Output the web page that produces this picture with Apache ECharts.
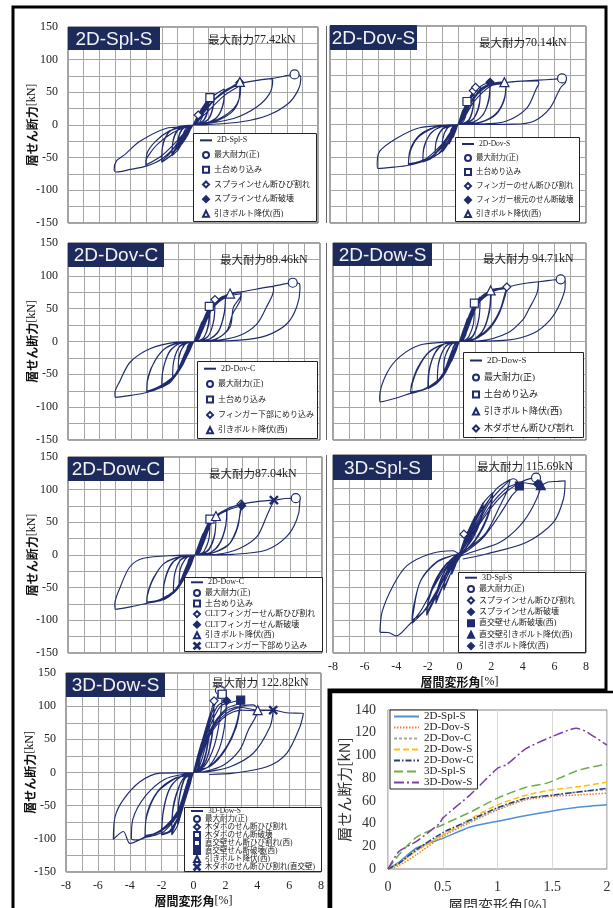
<!DOCTYPE html>
<html>
<head>
<meta charset="utf-8">
<script src="https://cdn.jsdelivr.net/npm/echarts@6/dist/echarts.min.js"></script>
<style>
html, body { margin: 0; padding: 0; background: #fff; }
#main { width: 613px; height: 908px; }
</style>
</head>
<body>
<div id="main"></div>
<script>
// 試験体ごとの履歴ループ + 包絡線比較
var panelNames = ['2D-Spl-S', '2D-Dov-S', '2D-Dov-C', '2D-Dow-S', '2D-Dow-C', '3D-Spl-S', '3D-Dow-S'];
var maxLoads = ['77.42', '70.14', '89.46', '94.71', '87.04', '115.69', '122.82'];

// 履歴ループ [x(%), y(kN), x, y, ...] 1サイクルずつ
var loops1 = [
    [0,0, 0.25,12, 0.5,22, 0.47,13, 0.3,4, 0,0, -0.25,-11, -0.5,-21, -0.47,-12, -0.3,-3, 0,0],
    [0,0, 0.35,17, 0.7,30, 0.66,17, 0.45,5, 0.2,1, 0,0, -0.35,-16, -0.7,-29, -0.66,-16, -0.45,-5, -0.2,-1, 0,0],
    [0,0, 0.5,22, 1.0,42, 0.95,24, 0.7,8, 0.35,2, 0,0, -0.5,-20, -1.0,-40, -0.95,-22, -0.7,-7, -0.35,-2, 0,0],
    [0,0, 0.5,20, 1.0,38, 0.95,21, 0.7,7, 0.35,2, 0,0, -0.5,-18, -1.0,-36, -0.94,-19, -0.7,-6, -0.35,-1, 0,0],
    [0,0, 0.5,20, 1.0,40, 1.35,48, 1.28,28, 1.0,10, 0.5,2, 0,0, -0.5,-19, -1.0,-39, -1.35,-47, -1.28,-26, -1.0,-9, -0.5,-2, 0,0],
    [0,0, 0.6,20, 1.35,45, 1.27,25, 1.0,9, 0.5,1, 0,0, -0.6,-19, -1.35,-44, -1.27,-23, -1.0,-8, -0.5,-1, 0,0],
    [0,0, 0.6,22, 1.3,44, 2.0,55, 1.95,35, 1.6,14, 1.0,4, 0.4,1, 0,0, -0.6,-20, -1.3,-44, -2.0,-57, -1.95,-34, -1.6,-13, -1.0,-3, -0.4,-1, 0,0],
    [0,0, 0.8,22, 1.5,42, 2.0,52, 1.94,32, 1.55,12, 0.9,3, 0,0, -0.8,-21, -1.5,-44, -2.0,-55, -1.94,-31, -1.55,-11, -0.9,-3, 0,0],
    [0,0, 0.7,22, 1.5,42, 2.2,54, 3.0,65, 3.05,58, 2.95,40, 2.6,25, 1.8,11, 0.9,3, 0,0, -0.7,-20, -1.5,-42, -2.2,-55, -3.0,-63, -3.02,-55, -2.8,-45, -2.3,-30, -1.3,-12, -0.4,-2.5, 0,0],
    [0,0, 1.0,22, 2.0,45, 3.0,60, 2.93,38, 2.5,20, 1.6,7, 0.7,1, 0,0, -1.0,-24, -2.0,-47, -3.0,-61, -2.95,-44, -2.4,-25, -1.5,-9, -0.5,-2, 0,0],
    [0,0, 1.0,30, 2.0,50, 3.0,63, 4.0,68, 5.0,71, 5.1,68, 4.9,48, 4.1,28, 2.6,10, 0.5,1, 0,0, -1.0,-30, -2.0,-52, -3.0,-63, -4.0,-68, -4.9,-72, -5.05,-69, -4.9,-55, -4.35,-45, -3.4,-25, -1.7,-5, 0,0],
    [0,0, 1.0,30, 2.0,52, 3.0,63, 4.0,68, 5.0,71, 5.5,73, 6.0,75.5, 6.5,77.4, 6.85,76, 6.9,70, 6.72,53, 6.1,33, 4.8,15, 3.1,5, 0.9,0.5, 0,0]
];
var loops2 = [
    [0,0, 0.15,11, 0.3,22, 0.28,12, 0.15,3, 0,0, -0.15,-10, -0.3,-20, -0.28,-10, -0.15,-2, 0,0],
    [0,0, 0.3,20, 0.56,35, 0.53,18, 0.35,5, 0.15,1, 0,0, -0.3,-17, -0.56,-30, -0.52,-15, -0.35,-4, -0.15,-1, 0,0],
    [0,0, 0.4,25, 0.8,44, 1.0,52, 0.95,28, 0.7,8, 0.35,2, 0,0, -0.4,-20, -0.8,-36, -1.0,-42, -0.95,-22, -0.7,-6, -0.35,-1, 0,0],
    [0,0, 0.5,27, 1.0,49, 0.94,25, 0.7,7, 0.3,1, 0,0, -0.5,-21, -1.0,-40, -0.94,-20, -0.65,-5, -0.3,-1, 0,0],
    [0,0, 0.5,26, 1.0,50, 1.4,58, 1.33,32, 1.0,10, 0.5,2, 0,0, -0.5,-20, -1.0,-40, -1.44,-48, -1.36,-26, -1.0,-8, -0.5,-2, 0,0],
    [0,0, 0.7,30, 1.4,55, 1.32,28, 0.95,8, 0.45,1, 0,0, -0.7,-24, -1.44,-46, -1.34,-23, -0.95,-6, -0.45,-1, 0,0],
    [0,0, 0.6,30, 1.2,54, 1.6,61, 2.0,64, 1.93,40, 1.6,16, 1.0,4, 0.4,1, 0,0, -0.6,-24, -1.2,-44, -1.7,-52, -2.2,-57, -2.12,-35, -1.7,-13, -1.0,-3, -0.4,-1, 0,0],
    [0,0, 0.8,32, 1.5,56, 2.0,61, 1.92,36, 1.5,13, 0.8,2, 0,0, -0.8,-27, -1.6,-49, -2.2,-55, -2.1,-32, -1.6,-11, -0.8,-2, 0,0],
    [0,0, 0.8,32, 1.6,57, 2.2,63, 3.0,65, 2.92,42, 2.5,20, 1.7,6, 0.8,1, 0,0, -0.8,-26, -1.6,-48, -2.3,-57, -3.1,-62, -3.0,-42, -2.5,-20, -1.6,-6, -0.7,-1, 0,0],
    [0,0, 1.0,35, 2.0,58, 3.0,62, 2.9,38, 2.4,16, 1.5,4, 0.6,1, 0,0, -1.0,-30, -2.0,-52, -3.1,-60, -2.98,-38, -2.4,-16, -1.4,-4, 0,0],
    [0,0, 1.0,40, 2.0,60, 3.0,64, 4.0,66, 5.0,66.5, 5.05,62, 4.9,55, 4.3,25, 3.0,5, 1.4,0.5, 0,0, -1.0,-35, -2.0,-54, -3.1,-62, -4.0,-65, -5.0,-67, -5.05,-60, -4.9,-41, -3.83,-21, -2.4,-5, -0.7,-1, 0,0],
    [0,0, 1.0,42, 2.0,61, 3.0,64, 4.0,66, 5.0,67.5, 6.0,69, 6.5,70.1, 6.75,69, 6.72,64, 6.4,55.6, 5.75,25, 4.7,4.6, 3.5,0.5, 0,0]
];
var loops3 = [
    [0,0, 0.25,15, 0.5,30, 0.47,16, 0.3,4, 0,0, -0.25,-13, -0.5,-25, -0.47,-13, -0.3,-3, 0,0],
    [0,0, 0.5,28, 0.97,53.6, 0.92,28, 0.65,7, 0.3,1, 0,0, -0.5,-24, -1.0,-45, -0.95,-24, -0.65,-6, -0.3,-1, 0,0],
    [0,0, 0.5,26, 1.0,50, 0.93,25, 0.62,6, 0.3,1, 0,0, -0.5,-23, -1.0,-43, -0.94,-21, -0.6,-5, -0.3,-1, 0,0],
    [0,0, 0.6,33, 1.0,53, 1.33,63.8, 1.27,35, 0.95,10, 0.45,2, 0,0, -0.6,-30, -1.0,-46, -1.36,-58, -1.3,-32, -0.95,-9, -0.45,-2, 0,0],
    [0,0, 0.7,35, 1.33,61, 1.26,32, 0.9,8, 0.4,1, 0,0, -0.7,-32, -1.36,-56, -1.28,-29, -0.9,-7, -0.4,-1, 0,0],
    [0,0, 0.7,38, 1.3,60, 1.7,67, 2.0,70, 1.93,45, 1.6,18, 1.0,4, 0.4,1, 0,0, -0.7,-35, -1.4,-59, -2.05,-70, -1.98,-45, -1.6,-18, -1.0,-4, -0.4,-1, 0,0],
    [0,0, 0.9,42, 1.5,62, 2.0,68, 1.92,42, 1.55,15, 0.9,3, 0,0, -0.9,-40, -1.5,-60, -2.05,-68, -1.96,-42, -1.55,-15, -0.9,-3, 0,0],
    [0,0, 0.9,45, 1.5,63, 2.3,73, 3.0,75.5, 2.95,68, 2.5,52, 2.29,22, 1.44,4, 0.6,0.5, 0,0, -0.9,-42, -1.5,-62, -2.2,-71, -3.0,-77.6, -2.95,-60, -2.6,-35, -1.9,-12, -0.9,-2, 0,0],
    [0,0, 1.1,48, 2.0,67, 3.0,73, 2.93,62, 2.45,42, 2.1,17, 1.3,3, 0,0, -1.1,-48, -2.1,-67, -3.0,-76, -2.93,-55, -2.5,-30, -1.8,-10, -0.8,-1, 0,0],
    [0,0, 1.2,52, 2.0,69, 3.0,75.5, 4.0,80, 5.0,84, 5.05,78, 4.6,52.5, 4.0,27, 2.9,9, 1.6,2, 0,0, -1.2,-50, -2.1,-69, -3.0,-77.6, -4.0,-82, -5.0,-85, -5.02,-78, -4.7,-60, -4.06,-31.6, -2.8,-11, -1.1,-1, 0,0],
    [0,0, 1.2,52, 2.0,69, 3.0,75.5, 4.0,80, 5.0,84, 5.6,87, 6.27,89.5, 6.7,88, 6.73,80.7, 6.52,52.5, 5.9,27, 4.6,9, 2.9,2, 0,0]
];
var loops4 = [
    [0,0, 0.25,18, 0.5,35, 0.47,18, 0.3,5, 0,0, -0.25,-16, -0.5,-30, -0.47,-15, -0.3,-4, 0,0],
    [0,0, 0.5,33, 0.94,58.5, 0.9,30, 0.6,8, 0.3,1, 0,0, -0.5,-29, -1.0,-52, -0.95,-27, -0.6,-7, -0.3,-1, 0,0],
    [0,0, 0.5,31, 0.94,55, 0.88,27, 0.58,7, 0.28,1, 0,0, -0.5,-27, -1.0,-49, -0.93,-24, -0.58,-6, -0.28,-1, 0,0],
    [0,0, 0.6,38, 1.0,58, 1.3,68, 1.24,38, 0.9,11, 0.45,2, 0,0, -0.6,-34, -1.0,-52, -1.4,-63, -1.33,-35, -0.95,-10, -0.45,-2, 0,0],
    [0,0, 0.7,40, 1.3,65, 1.23,35, 0.88,9, 0.4,1, 0,0, -0.7,-36, -1.4,-61, -1.32,-32, -0.9,-8, -0.4,-1, 0,0],
    [0,0, 0.8,48, 1.4,69, 1.97,77.8, 1.9,50, 1.55,20, 1.0,5, 0.4,1, 0,0, -0.8,-42, -1.4,-63, -1.97,-71.5, -1.92,-46, -1.55,-18, -1.0,-4, -0.4,-1, 0,0],
    [0,0, 1.0,52, 1.6,70, 2.0,75, 1.9,46, 1.5,17, 0.9,3, 0,0, -1.0,-48, -1.6,-65, -2.0,-70, -1.92,-43, -1.5,-15, -0.9,-3, 0,0],
    [0,0, 1.0,55, 1.97,77.8, 2.5,81, 3.0,83, 2.88,73.6, 2.56,48, 1.93,22.6, 1.1,6, 0.4,1, 0,0, -1.0,-50, -2.0,-70, -2.6,-76, -3.09,-79, -3.05,-70, -2.7,-45, -2.0,-18, -1.0,-4, 0,0],
    [0,0, 1.2,58, 2.2,77, 3.0,81, 2.87,68, 2.5,42, 1.85,18, 1.0,4, 0,0, -1.2,-55, -2.2,-72, -3.09,-77, -3.03,-65, -2.65,-40, -1.9,-15, -0.9,-3, 0,0],
    [0,0, 1.2,60, 2.0,77, 3.0,83, 4.0,88, 5.0,91, 4.9,73.6, 4.4,50, 4.0,33, 3.0,12.5, 1.3,1, 0,0, -1.2,-56, -2.1,-72, -3.1,-79, -4.0,-86, -5.03,-92, -5.05,-85, -4.6,-48.5, -3.77,-23, -2.5,-5.3, -0.9,-1, 0,0],
    [0,0, 1.2,60, 2.0,77, 3.0,83, 4.0,88, 5.0,91, 5.7,93, 6.4,94.7, 6.68,92, 6.68,83.7, 6.36,58, 5.73,33, 4.67,12.5, 3.0,2, 0,0]
];
var loops5 = [
    [0,0, 0.25,17, 0.5,33, 0.47,17, 0.3,4, 0,0, -0.25,-15, -0.5,-28, -0.47,-14, -0.3,-3, 0,0],
    [0,0, 0.5,31, 0.94,55, 0.9,28, 0.6,7, 0.3,1, 0,0, -0.5,-27, -1.0,-48, -0.95,-24, -0.6,-6, -0.3,-1, 0,0],
    [0,0, 0.5,29, 0.94,52, 0.88,25, 0.58,6, 0.28,1, 0,0, -0.5,-25, -1.0,-46, -0.93,-22, -0.58,-5, -0.28,-1, 0,0],
    [0,0, 0.6,35, 1.0,55, 1.32,59.7, 1.25,33, 0.9,10, 0.45,2, 0,0, -0.6,-32, -1.0,-49, -1.36,-58.7, -1.3,-32, -0.95,-9, -0.45,-2, 0,0],
    [0,0, 0.7,37, 1.32,58, 1.24,30, 0.88,8, 0.4,1, 0,0, -0.7,-34, -1.36,-57, -1.28,-29, -0.9,-7, -0.4,-1, 0,0],
    [0,0, 0.8,45, 1.4,61, 2.0,70, 1.93,45, 1.55,18, 1.0,4, 0.4,1, 0,0, -0.8,-40, -1.4,-59, -2.0,-69, -1.94,-44, -1.55,-17, -1.0,-4, -0.4,-1, 0,0],
    [0,0, 1.0,50, 1.6,63, 2.0,68, 1.92,42, 1.5,15, 0.9,3, 0,0, -1.0,-46, -1.6,-62, -2.0,-67, -1.93,-41, -1.5,-14, -0.9,-3, 0,0],
    [0,0, 1.0,52, 2.0,70, 2.5,75, 2.94,78, 2.85,68, 2.7,43, 2.2,18, 1.2,4, 0.4,1, 0,0, -1.0,-47, -2.0,-68, -2.6,-72, -3.04,-74, -3.0,-62, -2.65,-38, -2.0,-14, -1.0,-3, 0,0],
    [0,0, 1.2,56, 2.2,70, 2.94,75, 2.84,62, 2.6,38, 2.1,15, 1.1,3, 0,0, -1.2,-52, -2.2,-68, -3.04,-72, -2.98,-58, -2.6,-34, -1.9,-12, -0.9,-2, 0,0],
    [0,0, 1.2,57, 2.0,70, 3.0,78, 4.0,82, 5.0,84, 4.8,75, 4.5,58.6, 3.9,28, 2.8,10, 1.4,1, 0,0, -1.2,-53, -2.1,-69, -3.04,-74, -4.0,-79, -5.03,-83, -5.05,-75, -4.7,-48.5, -4.1,-18, -3.25,-5, -1.1,-0.5, 0,0],
    [0,0, 1.2,57, 2.0,70, 3.0,78, 4.0,82, 5.0,84, 5.7,86.5, 6.35,87, 6.6,86, 6.6,79, 6.4,53.6, 5.77,28, 4.5,7.7, 2.4,1, 0,0]
];
var loops6 = [
    [0,0, 0.25,18, 0.5,34, 0.42,20, 0.2,6, 0,0, -0.25,-17, -0.5,-31, -0.42,-18, -0.2,-5, 0,0],
    [0,0, 0.5,32, 1.0,58, 0.9,38, 0.55,15, 0.15,0, -0.3,-15, -0.7,-38, -1.0,-55, -0.9,-35, -0.55,-12, -0.15,0, 0,0],
    [0,0, 0.5,30, 1.0,55, 0.88,34, 0.5,12, 0.1,-2, -0.4,-22, -1.0,-52, -0.88,-32, -0.5,-10, 0,0],
    [0,0, 0.5,30, 1.0,55, 1.5,78, 1.35,55, 0.9,28, 0.3,6, -0.3,-12, -0.9,-40, -1.5,-75, -1.35,-52, -0.9,-25, -0.3,-4, 0,0],
    [0,0, 0.6,30, 1.1,56, 1.5,74, 1.33,50, 0.85,24, 0.25,4, -0.35,-15, -0.95,-42, -1.5,-71, -1.33,-48, -0.85,-22, -0.25,-3, 0,0],
    [0,0, 0.6,32, 1.2,62, 1.6,80, 2.1,93, 1.95,72, 1.6,48, 1.0,22, 0.3,3, -0.4,-14, -1.0,-38, -1.6,-70, -2.08,-93, -1.95,-70, -1.5,-42, -0.9,-18, -0.3,-3, 0,0],
    [0,0, 0.7,33, 1.3,62, 2.1,90, 1.93,66, 1.5,40, 0.9,17, 0.2,2, -0.5,-18, -1.2,-48, -2.08,-90, -1.93,-65, -1.45,-36, -0.8,-14, 0,0],
    [0,0, 0.8,35, 1.5,66, 2.3,98, 3.2,113, 3.0,95, 2.56,73, 1.7,33, 0.65,10, -0.2,-2, -1.0,-35, -2.0,-80, -3.0,-105, -2.92,-88, -2.5,-43, -1.44,-12.6, -0.4,-2, 0,0],
    [0,0, 1.0,40, 2.0,82, 2.8,103, 3.4,114, 3.6,112, 3.79,103, 3.3,88, 2.5,58, 1.5,25, 0.5,5, -0.3,-8, -1.3,-50, -2.3,-88, -3.0,-100, -2.95,-85, -2.45,-40, -1.4,-11, -0.4,-2, 0,0],
    [0,0, 1.0,38, 2.0,75, 3.0,100, 3.8,108, 4.3,113, 4.84,115.7, 5.0,110, 5.14,104.5, 4.67,73, 3.83,43, 2.56,17.7, 0.8,3, -0.5,-10, -1.5,-45, -2.5,-88, -3.3,-110, -4.0,-124, -4.5,-119, -5.03,-118.6, -4.9,-88, -4.2,-48, -3.34,-18, -1.87,0, -0.4,5, 0,0],
    [0,0, 1.0,36, 2.0,70, 3.0,95, 4.0,108, 5.14,104.5, 5.6,109, 6.2,110, 6.68,111, 6.57,83, 5.94,48, 4.25,17.7, 1.7,0, 0.21,-7.5]
];
var loops7 = [
    [0,0, 0.25,24, 0.5,45, 0.45,25, 0.25,6, 0,0, -0.25,-21, -0.5,-40, -0.45,-21, -0.25,-5, 0,0],
    [0,0, 0.5,44, 1.0,85, 0.93,50, 0.6,15, 0.25,2, 0,0, -0.5,-40, -1.0,-80, -0.93,-46, -0.6,-12, -0.25,-2, 0,0],
    [0,0, 0.5,42, 1.0,80, 0.92,45, 0.58,12, 0,0, -0.5,-38, -1.0,-76, -0.92,-42, -0.58,-10, 0,0],
    [0,0, 0.6,50, 1.0,84, 1.29,108, 1.2,65, 0.85,22, 0.4,4, 0,0, -0.6,-46, -1.0,-80, -1.37,-94, -1.28,-55, -0.85,-18, -0.4,-3, 0,0],
    [0,0, 0.7,55, 1.29,100, 1.19,58, 0.8,18, 0.35,3, 0,0, -0.7,-52, -1.37,-92, -1.27,-50, -0.8,-15, -0.35,-2, 0,0],
    [0,0, 0.7,58, 1.3,100, 1.7,122.8, 1.8,118, 1.65,80, 1.3,40, 0.7,10, 0,0, -0.7,-55, -1.4,-88, -2.0,-94, -1.9,-60, -1.5,-25, -0.8,-6, 0,0],
    [0,0, 0.8,60, 1.5,100, 2.08,108, 1.95,70, 1.6,35, 0.9,8, 0,0, -0.8,-58, -1.5,-88, -2.0,-92, -1.88,-55, -1.45,-22, -0.7,-5, 0,0],
    [0,0, 0.9,62, 1.7,100, 2.4,106, 2.96,109, 2.7,74, 2.08,39, 1.24,14, 0.4,2, 0,0, -0.9,-60, -1.8,-88, -2.5,-95, -3.04,-97.8, -2.94,-66.6, -2.3,-31, -1.27,-11, -0.43,-3, 0,0],
    [0,0, 1.0,62, 2.0,95, 2.96,104, 2.68,68, 2.0,34, 1.1,10, 0,0, -1.0,-62, -2.0,-88, -3.04,-95, -2.9,-60, -2.2,-27, -1.2,-9, 0,0],
    [0,0, 1.0,60, 2.0,92, 3.0,100, 3.75,102, 4.03,94, 3.44,64, 2.9,34, 1.87,11, 0.6,1, 0,0, -1.0,-60, -2.0,-88, -3.04,-97, -3.5,-102, -3.9,-100, -3.8,-70, -3.0,-35, -1.8,-10, -0.5,-2, 0,0],
    [0,0, 1.0,58, 2.0,88, 3.0,98, 4.0,94, 5.0,94, 4.8,69, 3.75,29, 2.3,8.7, 0.84,1, 0,0, -1.0,-58, -2.0,-86, -3.04,-97.8, -3.98,-107, -4.4,-89, -5.03,-100.8, -4.92,-66.6, -4.4,-41, -3.36,-14, -2.1,-1, 0,0],
    [0,0, 1.0,55, 2.0,85, 3.0,94, 4.0,93, 5.0,94, 5.8,90, 6.89,89, 6.68,69, 5.85,29, 4.6,8.7, 2.5,-1, 1.0,-3]
];

// 破壊性状のマーカー [凡例名, 記号, 点]
var marks1 = [
    ['最大耐力(正)', 'o', [[6.5, 77.4]]],
    ['土台めり込み', 's', [[1.08, 42]]],
    ['スプラインせん断ひび割れ', 'd', [[0.33, 15.3]]],
    ['スプラインせん断破壊', 'D', [[3.0, 65]]],
    ['引きボルト降伏(西)', 't', [[3.0, 66]]]
];
var marks2 = [
    ['最大耐力(正)', 'o', [[6.5, 70.1]]],
    ['土台めり込み', 's', [[0.56, 35]]],
    ['フィンガーのせん断ひび割れ', 'd', [[0.96, 51.6], [1.1, 56.6]]],
    ['フィンガー根元のせん断破壊', 'D', [[2.0, 64.3]]],
    ['引きボルト降伏(西)', 't', [[2.9, 64.5]]]
];
var marks3 = [
    ['最大耐力(正)', 'o', [[6.27, 89.5]]],
    ['土台めり込み', 's', [[0.97, 53.6]]],
    ['フィンガー下部にめり込み', 'd', [[1.33, 63.8]]],
    ['引きボルト降伏(西)', 't', [[2.29, 73]]]
];
var marks4 = [
    ['最大耐力(正)', 'o', [[6.4, 94.7]]],
    ['土台めり込み', 's', [[0.94, 58.5]]],
    ['引きボルト降伏(西)', 't', [[1.97, 77.8]]],
    ['木ダボせん断ひび割れ', 'd', [[2.99, 83]]]
];
var marks5 = [
    ['最大耐力(正)', 'o', [[6.35, 87]]],
    ['土台めり込み', 's', [[0.94, 55]]],
    ['CLTフィンガーせん断ひび割れ', 'd', [[2.9, 78]]],
    ['CLTフィンガーせん断破壊', 'D', [[2.94, 75.5]]],
    ['引きボルト降伏(西)', 't', [[1.32, 59.7]]],
    ['CLTフィンガー下部めり込み', 'x', [[4.97, 84]]]
];
var marks6 = [
    ['最大耐力(正)', 'o', [[4.84, 115.7]]],
    ['スプラインせん断ひび割れ', 'd', [[0.28, 30]]],
    ['スプラインせん断破壊', 'D', [[4.95, 106]]],
    ['直交壁せん断破壊(西)', 'S', [[3.79, 103]]],
    ['直交壁引きボルト降伏(西)', 'T', [[5.14, 104.5]]],
    ['引きボルト降伏(西)', 'D', [[4.95, 106]]]
];
var marks7 = [
    ['最大耐力(正)', 'o', [[1.66, 124]]],
    ['木ダボのせん断ひび割れ', 'd', [[1.29, 108]]],
    ['木ダボのせん断破壊', 's', [[1.8, 118]]],
    ['直交壁せん断ひび割れ(西)', 's', [[1.8, 118]]],
    ['直交壁せん断破壊(西)', 'S', [[2.96, 109]]],
    ['引きボルト降伏(西)', 't', [[4.03, 94]]],
    ['木ダボのせん断ひび割れ(直交壁)', 'x', [[5.0, 94]]],
    ['', 'D', [[2.08, 108]]]
];

// 包絡線 (0-2%)
var envNames = ['2D-Spl-S', '2D-Dov-S', '2D-Dov-C', '2D-Dow-S', '2D-Dow-C', '3D-Spl-S', '3D-Dow-S'];
var env2DSplS = [[0,0],[0.1,6],[0.26,18.5],[0.5,27],[0.75,37],[1.0,42],[1.2,46],[1.48,50.7],[1.75,54.5],[2.0,56.5]];
var env2DDovS = [[0,0],[0.1,3],[0.26,12.6],[0.5,28.7],[0.75,41],[1.0,52],[1.26,61],[1.5,64],[1.75,65.3],[2.0,66.8]];
var env2DDovC = [[0,0],[0.1,5],[0.26,16],[0.5,30],[0.75,42],[1.0,53],[1.3,63],[1.5,65],[1.75,68],[2.0,70]];
var env2DDowS = [[0,0],[0.1,5],[0.26,16],[0.5,30],[0.75,44],[1.0,56.5],[1.26,65],[1.5,69.7],[1.75,72.6],[2.0,76.4]];
var env2DDowC = [[0,0],[0.1,5],[0.26,17],[0.5,32],[0.75,43],[1.0,54],[1.25,62],[1.5,65],[1.75,68],[2.0,71]];
var env3DSplS = [[0,0],[0.1,12.6],[0.26,28],[0.5,39],[0.75,50],[1.0,62.4],[1.26,72],[1.45,75.6],[1.75,87.3],[2.0,92.3]];
var env3DDowS = [[0,0],[0.1,15.5],[0.26,24.3],[0.47,40],[0.5,44.8],[0.75,65.3],[1.0,88.7],[1.08,91.7],[1.26,106],[1.5,116.6],[1.72,124],[1.81,121],[2.0,109]];

var hystLoops = [loops1, loops2, loops3, loops4, loops5, loops6, loops7];
var hystMarks = [marks1, marks2, marks3, marks4, marks5, marks6, marks7];
var envData = [env2DSplS, env2DDovS, env2DDovC, env2DDowS, env2DDowC, env3DSplS, env3DDowS];

// 配置 (px)  legBox: [x, y, w, h], legRow: 行の高さ, legFont: 文字サイズ
var layout = [
    {g: [68, 27, 250, 196],  yLab: true,  xLab: false, box: [68, 27, 92, 23],   maxAt: [208, 40],  sp: '',  legBox: [193, 133, 123, 88], legRow: 14.7, legFont: 8},
    {g: [330, 26, 256, 197], yLab: false, xLab: false, box: [330, 25, 87, 25],  maxAt: [479, 43],  sp: '',  legBox: [455, 137, 124, 84], legRow: 14,   legFont: 7.5},
    {g: [68, 243, 252, 197], yLab: true,  xLab: false, box: [68, 243, 96, 24],  maxAt: [220, 260], sp: '',  legBox: [197, 361, 120, 77], legRow: 15.4, legFont: 8},
    {g: [333, 243, 253, 197], yLab: false, xLab: false, box: [333, 243, 99, 23], maxAt: [483, 259], sp: ' ', legBox: [463, 352, 120, 85], legRow: 17,   legFont: 9},
    {g: [68, 457, 254, 196], yLab: true,  xLab: false, box: [68, 457, 96, 24],  maxAt: [209, 474], sp: '',  legBox: [184, 577, 138, 74], legRow: 10.6, legFont: 8},
    {g: [333, 455, 253, 198], yLab: false, xLab: true,  box: [333, 455, 99, 25], maxAt: [477, 467], sp: ' ', legBox: [458, 572, 127, 80], legRow: 11.4, legFont: 8},
    {g: [66, 673, 255, 199], yLab: true,  xLab: true,  box: [66, 673, 99, 24],  maxAt: [212, 683], sp: ' ', legBox: [184, 807, 137, 64], legRow: 8,    legFont: 7.5}
];

var NAVY = '#1f2b6e';
var SERIF = "'Liberation Serif','Noto Sans CJK JP'";
var JP = "'Noto Sans CJK JP'";
var SYM = {
    o: {symbol: 'circle', size: 9, fill: '#fff'},
    s: {symbol: 'rect', size: 8, fill: '#fff'},
    S: {symbol: 'rect', size: 8, fill: NAVY},
    d: {symbol: 'diamond', size: 8, fill: '#fff'},
    D: {symbol: 'diamond', size: 8, fill: NAVY},
    t: {symbol: 'triangle', size: 9, fill: '#fff'},
    T: {symbol: 'triangle', size: 9, fill: NAVY},
    x: {symbol: 'path://M0,1L1,0L5,4L9,0L10,1L6,5L10,9L9,10L5,6L1,10L0,9L4,5Z', size: 8, fill: NAVY}
};

function toPairs(loops) {
    var out = [];
    loops.forEach(function (l) {
        for (var k = 0; k < l.length; k += 2) out.push([l[k], l[k + 1]]);
    });
    return out;
}
function stripName(n) {
    var p = n.indexOf('|');
    return p >= 0 ? n.slice(p + 1) : n;
}

var grids = [], xAxes = [], yAxes = [], series = [], legends = [], graphics = [];

layout.forEach(function (L, i) {
    grids.push({left: L.g[0], top: L.g[1], width: L.g[2], height: L.g[3], show: true,
        borderColor: '#444', borderWidth: 1, containLabel: false, outerBoundsMode: 'none'});
    xAxes.push({
        gridIndex: i, type: 'value', min: -8, max: 8, interval: 1,
        axisLine: {show: false}, axisTick: {show: false},
        splitLine: {show: true, lineStyle: {color: '#a6a6a6', width: 1}},
        axisLabel: {show: L.xLab, margin: 8, color: '#222', fontFamily: SERIF, fontSize: 12,
            formatter: function (v) { return v % 2 === 0 ? String(v) : ''; }},
        name: L.xLab ? '{b|層間変形角}{c|[%]}' : '', nameLocation: 'middle', nameGap: 23, nameMoveOverlap: false,
        nameTextStyle: {rich: {
            b: {fontFamily: JP, fontWeight: 'bold', fontSize: 12, color: '#111'},
            c: {fontFamily: SERIF, fontSize: 12, color: '#111'}
        }}
    });
    yAxes.push({
        gridIndex: i, type: 'value', min: -150, max: 150, interval: 25,
        axisLine: {show: false}, axisTick: {show: false},
        splitLine: {show: true, lineStyle: {color: '#a6a6a6', width: 1}},
        axisLabel: {show: L.yLab, margin: 10, color: '#222', fontFamily: SERIF, fontSize: 12,
            formatter: function (v) { return v % 50 === 0 ? String(v) : ''; }},
        name: L.yLab ? '{b|層せん断力}{c|[kN]}' : '', nameLocation: 'middle', nameGap: 30, nameMoveOverlap: false,
        nameTextStyle: {rich: {
            b: {fontFamily: JP, fontWeight: 'bold', fontSize: 12, color: '#111'},
            c: {fontFamily: SERIF, fontSize: 12, color: '#111'}
        }}
    });

    var lineName = 'h' + i + '|' + panelNames[i];
    series.push({
        type: 'line', name: lineName, xAxisIndex: i, yAxisIndex: i,
        data: toPairs(hystLoops[i]), smooth: 0.3, symbol: 'none',
        lineStyle: {color: NAVY, width: 1.15}, itemStyle: {color: NAVY},
        animation: false, z: 2
    });
    var markNames = [];
    hystMarks[i].forEach(function (m, j) {
        var s = SYM[m[1]];
        var nm = 'm' + i + '_' + j + '|' + m[0];
        series.push({
            type: 'scatter', name: nm, xAxisIndex: i, yAxisIndex: i, data: m[2],
            symbol: s.symbol, symbolSize: s.size,
            itemStyle: {color: s.fill, borderColor: NAVY, borderWidth: 1.2, opacity: 1},
            animation: false, z: 5
        });
        if (m[0]) markNames.push(nm);
    });

    // 凡例: 枠 + 線の行 + マーカーの行
    var b = L.legBox;
    graphics.push({type: 'rect', z: 45, shape: {x: b[0] + 0.5, y: b[1] + 0.5, width: b[2], height: b[3]},
        style: {fill: '#fff', stroke: '#222', lineWidth: 1}});
    var legText = {fontFamily: SERIF, fontSize: L.legFont, lineHeight: L.legRow, color: '#222'};
    legends.push({
        orient: 'vertical', left: b[0] + 6, top: b[1], itemGap: 0, padding: 0,
        itemWidth: 12, itemHeight: 6, selectedMode: false, z: 50,
        itemStyle: {opacity: 0},
        data: [lineName], formatter: stripName, textStyle: legText
    });
    legends.push({
        orient: 'vertical', left: b[0] + 9, top: b[1] + L.legRow, itemGap: 0, padding: 0,
        itemWidth: 6, itemHeight: 6, selectedMode: false, z: 50,
        data: markNames, formatter: stripName, textStyle: legText
    });

    // 試験体名のラベル
    graphics.push({type: 'rect', shape: {x: L.box[0], y: L.box[1], width: L.box[2], height: L.box[3]},
        style: {fill: '#1c2a5c'}, z: 50});
    graphics.push({type: 'text', x: L.box[0] + L.box[2] / 2, y: L.box[1] + L.box[3] / 2 + 1, z: 51,
        style: {text: panelNames[i], fill: '#f2f2f2', font: "19px 'Liberation Sans'",
            textAlign: 'center', textVerticalAlign: 'middle', verticalAlign: 'middle'}});
    graphics.push({type: 'text', x: L.maxAt[0], y: L.maxAt[1], z: 51,
        style: {text: '{a|最大耐力}{b|' + L.sp + maxLoads[i] + 'kN}', textVerticalAlign: 'middle', verticalAlign: 'middle',
            rich: {a: {fontFamily: JP, fontSize: 11.5, fill: '#222', color: '#222'},
                   b: {fontFamily: "'Liberation Serif'", fontSize: 12, fill: '#222', color: '#222'}}}});
});

// 包絡線比較
var envStyles = [
    {color: '#4f8fd8', type: 'solid'},
    {color: '#ed7d31', type: [1.5, 1.5]},
    {color: '#a5a5a5', type: [3, 2]},
    {color: '#ffc000', type: [6, 3]},
    {color: '#243f7a', type: [6, 2, 1.5, 2]},
    {color: '#70ad47', type: [9, 4]},
    {color: '#7b3fa8', type: [10, 3, 2, 3]}
];
grids.push({left: 388, top: 710, width: 219, height: 159, show: true, borderColor: '#7f7f7f', borderWidth: 1,
    containLabel: false, outerBoundsMode: 'none'});
xAxes.push({gridIndex: 7, type: 'value', min: 0, max: 2, interval: 0.5,
    axisLine: {show: false}, axisTick: {show: false},
    splitLine: {show: true, lineStyle: {color: '#d9d9d9'}},
    axisLabel: {fontFamily: SERIF, fontSize: 14, color: '#333', margin: 11},
    name: '層間変形角[%]', nameLocation: 'middle', nameGap: 29, nameMoveOverlap: false,
    nameTextStyle: {fontFamily: JP, fontSize: 15, color: '#333'}});
yAxes.push({gridIndex: 7, type: 'value', min: 0, max: 140, interval: 20,
    axisLine: {show: false}, axisTick: {show: false}, splitLine: {show: false},
    axisLabel: {fontFamily: SERIF, fontSize: 14, color: '#333', margin: 12},
    name: '層せん断力[kN]', nameLocation: 'middle', nameGap: 36, nameMoveOverlap: false,
    nameTextStyle: {fontFamily: JP, fontSize: 15, color: '#333'}});
var envLeg = [];
envNames.forEach(function (n, k) {
    var nm = 'e|' + n;
    envLeg.push(nm);
    series.push({type: 'line', name: nm, xAxisIndex: 7, yAxisIndex: 7, data: envData[k],
        smooth: 0.2, symbol: 'none', animation: false,
        lineStyle: {color: envStyles[k].color, type: envStyles[k].type, width: 1.5},
        itemStyle: {color: envStyles[k].color}});
});
legends.push({orient: 'vertical', left: 390, top: 710, itemGap: 0, itemWidth: 25, itemHeight: 8,
    padding: [1, 4, 1, 3], backgroundColor: '#fff', borderColor: '#222', borderWidth: 1,
    selectedMode: false, data: envLeg, formatter: stripName, itemStyle: {opacity: 0},
    textStyle: {fontFamily: "'Liberation Serif'", fontSize: 11, lineHeight: 10.7, color: '#222'}});

// 枠線
graphics.push({type: 'polyline', z: 100,
    shape: {points: [[13, 908], [13, 7], [606, 7], [606, 690], [329, 690], [329, 908]]},
    style: {stroke: '#000', lineWidth: 3, fill: 'none'}});
graphics.push({type: 'rect', z: 100, shape: {x: 331, y: 692, width: 300, height: 300},
    style: {stroke: '#000', lineWidth: 2.5, fill: 'none'}});
[[26, 223], [243, 440], [455, 653]].forEach(function (r) {
    graphics.push({type: 'line', z: 40, shape: {x1: 326.5, y1: r[0], x2: 326.5, y2: r[1]},
        style: {stroke: '#666', lineWidth: 1}});
});

var chart = echarts.init(document.getElementById('main'));
chart.setOption({
    backgroundColor: '#fff',
    animation: false,
    textStyle: {fontFamily: SERIF},
    grid: grids,
    xAxis: xAxes,
    yAxis: yAxes,
    legend: legends,
    series: series,
    graphic: graphics
});
</script>
</body>
</html>
